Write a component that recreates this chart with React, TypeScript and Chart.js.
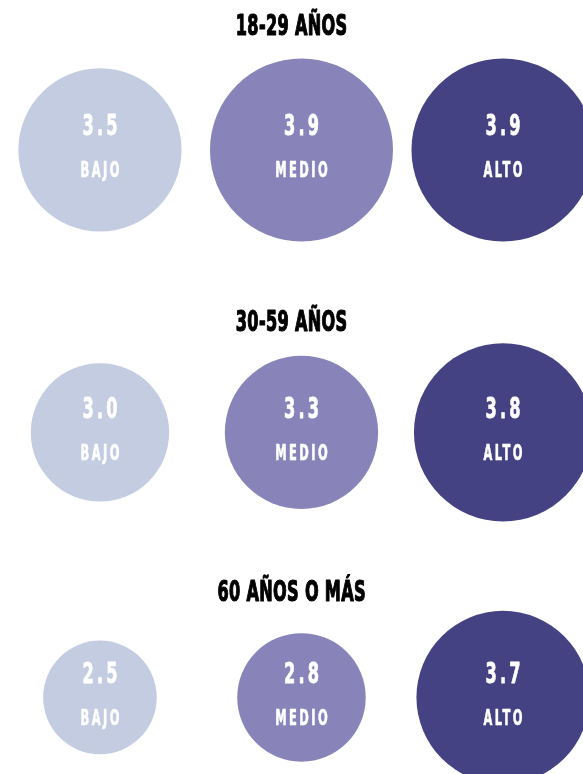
import React, { useEffect, useRef } from "react";
import { Chart, registerables } from "chart.js";

Chart.register(...registerables);

// ---- data ----
const CATEGORIES = ["BAJO", "MEDIO", "ALTO"];
const GROUP_TITLES = ["18-29 AÑOS", "30-59 AÑOS", "60 AÑOS O MÁS"];
const VALUES_18_29 = [3.5, 3.9, 3.9];
const VALUES_30_59 = [3.0, 3.3, 3.8];
const VALUES_60_PLUS = [2.5, 2.8, 3.7];

// ---- style ----
const COLORS = ["#C4CCE2", "#8884BA", "#444283"];
const FONT = '"DejaVu Sans Condensed", "DejaVu Sans", sans-serif';
const radiusFor = (v: number) => 24.8 * v - 5.2;

function drawCondensed(
  ctx: CanvasRenderingContext2D,
  text: string,
  x: number,
  baseline: number,
  size: number,
  sx: number,
  spacing: number,
  color: string,
  stroke: number
) {
  ctx.save();
  ctx.translate(x, baseline);
  ctx.scale(sx, 1);
  ctx.font = `bold ${size}px ${FONT}`;
  (ctx as any).letterSpacing = `${spacing}px`;
  ctx.fillStyle = color;
  ctx.strokeStyle = color;
  ctx.lineWidth = stroke;
  ctx.lineJoin = "round";
  ctx.textAlign = "center";
  ctx.textBaseline = "alphabetic";
  ctx.fillText(text, spacing / 2, 0);
  if (stroke > 0) ctx.strokeText(text, spacing / 2, 0);
  ctx.restore();
}

const bubbleLabels = {
  id: "bubbleLabels",
  afterDatasetsDraw(chart: any) {
    const ctx = chart.ctx;
    const meta = chart.getDatasetMeta(0);
    const values: number[] = chart.data.datasets[0].values;
    meta.data.forEach((el: any, i: number) => {
      const { x, y } = el.getProps(["x", "y"], true);
      drawCondensed(ctx, values[i].toFixed(1), x, y - 14.5, 29, 0.62, 5, "#ffffff", 0.8);
      drawCondensed(ctx, CATEGORIES[i], x, y + 27.5, 20.5, 0.62, 4, "#ffffff", 0.6);
    });
  },
  afterDraw(chart: any) {
    const tb = chart.titleBlock;
    if (!tb) return;
    const opts = chart.options.plugins.title;
    const centerY = tb.top + opts.padding.top + 14.4;
    drawCondensed(chart.ctx, opts.text, (tb.left + tb.right) / 2, centerY + 10.2, 28, 0.64, 0.5, "#000000", 1.2);
  },
};

type GroupProps = {
  title: string;
  values: number[];
  top: number;
  height: number;
  padTop: number;
  padBottom: number;
  areaPadBottom: number;
};

function BubbleGroup({ title, values, top, height, padTop, padBottom, areaPadBottom }: GroupProps) {
  const ref = useRef<HTMLCanvasElement | null>(null);
  useEffect(() => {
    if (!ref.current) return;
    const chart = new Chart(ref.current, {
      type: "bubble",
      data: {
        datasets: [
          {
            data: values.map((v, i) => ({ x: i, y: 0, r: radiusFor(v) })),
            values,
            backgroundColor: COLORS,
            borderWidth: 0,
            hoverBorderWidth: 0,
            clip: false,
          } as any,
        ],
      },
      options: {
        animation: false,
        responsive: false,
        devicePixelRatio: 1,
        events: [],
        layout: { padding: { top: 0, left: 0, right: 0, bottom: areaPadBottom }, autoPadding: false },
        scales: {
          x: { type: "linear", min: -0.496, max: 2.397, display: false },
          y: { type: "linear", min: -1, max: 1, display: false },
        },
        plugins: {
          legend: { display: false },
          tooltip: { enabled: false },
          title: {
            display: true,
            text: title,
            color: "rgba(0,0,0,0)",
            font: { family: FONT, size: 24, weight: "bold", lineHeight: 1.2 },
            padding: { top: padTop, bottom: padBottom },
          },
        },
      } as any,
      plugins: [bubbleLabels],
    });
    return () => chart.destroy();
  }, [title, values, height, padTop, padBottom, areaPadBottom]);
  return (
    <canvas
      ref={ref}
      width={583}
      height={height}
      style={{ position: "absolute", left: 0, top, display: "block", width: 583, height }}
    />
  );
}

export default function App() {
  return (
    <div
      style={{
        position: "fixed",
        left: 0,
        top: 0,
        width: 583,
        height: 774,
        overflow: "hidden",
        background: "#ffffff",
      }}
    >
      <BubbleGroup title={GROUP_TITLES[0]} values={VALUES_18_29} top={0} height={271} padTop={10} padBottom={10} areaPadBottom={20} />
      <BubbleGroup title={GROUP_TITLES[1]} values={VALUES_30_59} top={251} height={299} padTop={55} padBottom={10} areaPadBottom={30} />
      <BubbleGroup title={GROUP_TITLES[2]} values={VALUES_60_PLUS} top={520} height={254} padTop={56} padBottom={16} areaPadBottom={0} />
    </div>
  );
}
